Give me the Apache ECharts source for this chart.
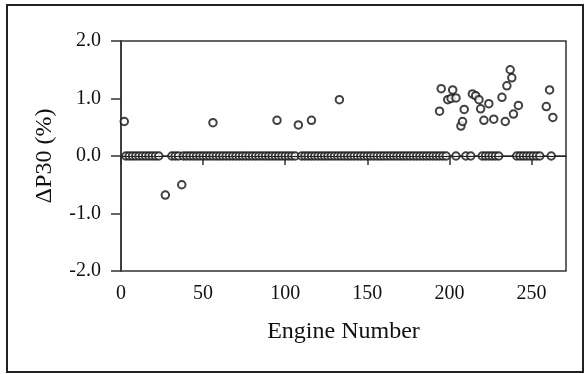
<!DOCTYPE html>
<html>
<head>
<meta charset="utf-8">
<script src="https://cdn.jsdelivr.net/npm/echarts@6/dist/echarts.min.js"></script>
<style>
  html, body { margin: 0; padding: 0; background: #fff; }
  #chart { width: 588px; height: 374px; }
</style>
</head>
<body>
<div id="chart"></div>
<script>
// engines whose ΔP30 was not zero, with the value read off the plot
var shiftEngines = [2, 27, 37, 56, 95, 108, 116, 133, 194, 195, 199, 201, 202, 204, 207, 208, 209,
  214, 216, 218, 219, 221, 224, 227, 232, 234, 235, 237, 238, 239, 242, 259, 261, 263];
var shiftValues = [0.60, -0.68, -0.50, 0.58, 0.62, 0.54, 0.62, 0.98, 0.78, 1.17, 0.98, 1.00, 1.15, 1.01, 0.52, 0.60, 0.81,
  1.08, 1.05, 0.98, 0.82, 0.62, 0.91, 0.64, 1.02, 0.60, 1.22, 1.50, 1.36, 0.73, 0.88, 0.86, 1.15, 0.67];

// engines sitting on the zero line
var zeroEngines = [3, 5, 7, 9, 11, 13, 15, 17, 19, 21, 23,
  31, 33, 35, 38, 40, 42, 44, 46, 48, 50, 52, 54, 56, 58, 60, 62, 64, 66, 68, 70, 72, 74, 76, 78, 80,
  82, 84, 86, 88, 90, 92, 94, 96, 98, 100, 102, 104, 106,
  110, 112, 114, 116, 118, 120, 122, 124, 126, 128, 130, 132, 134, 136, 138, 140, 142, 144, 146, 148,
  150, 152, 154, 156, 158, 160, 162, 164, 166, 168, 170, 172, 174, 176, 178, 180, 182, 184, 186,
  188, 190, 192, 194, 196, 198,
  204, 210, 213, 220, 222, 224, 226, 228, 230,
  241, 243, 245, 247, 249, 251, 253, 255, 262];

var xTicks = [0, 50, 100, 150, 200, 250];
var yTicks = [-2, -1, 0, 1, 2];

var shiftData = shiftEngines.map(function (e, i) { return [e, shiftValues[i]]; });
var zeroData = zeroEngines.map(function (e) { return [e, 0]; });

var chart = echarts.init(document.getElementById('chart'));
var ring = { color: '#fff', borderColor: '#111', borderWidth: 2 };
var serif = 'Liberation Serif, Times New Roman, serif';

var option = {
  animation: false,
  backgroundColor: '#fff',
  graphic: [{
    type: 'rect',
    shape: { x: 7, y: 5, width: 576, height: 367 },
    style: { fill: 'none', stroke: '#222', lineWidth: 2 },
    z: 100
  }],
  grid: {
    left: 121, right: 22, top: 41, bottom: 103,
    show: true, borderColor: '#333', borderWidth: 1.5, backgroundColor: 'transparent'
  },
  xAxis: {
    type: 'value', min: 0, max: 271,
    name: 'Engine Number', nameLocation: 'middle', nameGap: 49,
    nameTextStyle: { fontFamily: serif, fontSize: 24, color: '#111' },
    axisLine: { lineStyle: { color: '#333', width: 1.5 } },
    axisTick: { length: 9, lineStyle: { color: '#333', width: 1.5 }, customValues: xTicks },
    axisLabel: { fontFamily: serif, fontSize: 20, color: '#111', margin: 13, customValues: xTicks },
    splitLine: { show: false }
  },
  yAxis: {
    type: 'value', min: -2, max: 2, interval: 1,
    name: 'ΔP30 (%)', nameLocation: 'middle', nameGap: 64, nameRotate: 90,
    nameTextStyle: { fontFamily: serif, fontSize: 24, color: '#111' },
    axisLine: { show: true, lineStyle: { color: '#333', width: 1.5 } },
    axisTick: { show: true, length: 10, lineStyle: { color: '#333', width: 1.5 }, customValues: yTicks },
    axisLabel: {
      fontFamily: serif, fontSize: 20, color: '#111', margin: 20, customValues: yTicks,
      formatter: function (v) { return v.toFixed(1); }
    },
    splitLine: { show: false }
  },
  series: [
    {
      type: 'scatter', symbol: 'circle', symbolSize: 7.5,
      itemStyle: ring, data: zeroData,
      markLine: {
        silent: true, symbol: 'none', label: { show: false },
        lineStyle: { color: '#222', width: 1, type: 'solid' },
        data: [{ yAxis: 0 }]
      }
    },
    {
      type: 'scatter', symbol: 'circle', symbolSize: 7.5,
      itemStyle: ring, data: shiftData
    }
  ]
};

chart.setOption(option);
</script>
</body>
</html>
